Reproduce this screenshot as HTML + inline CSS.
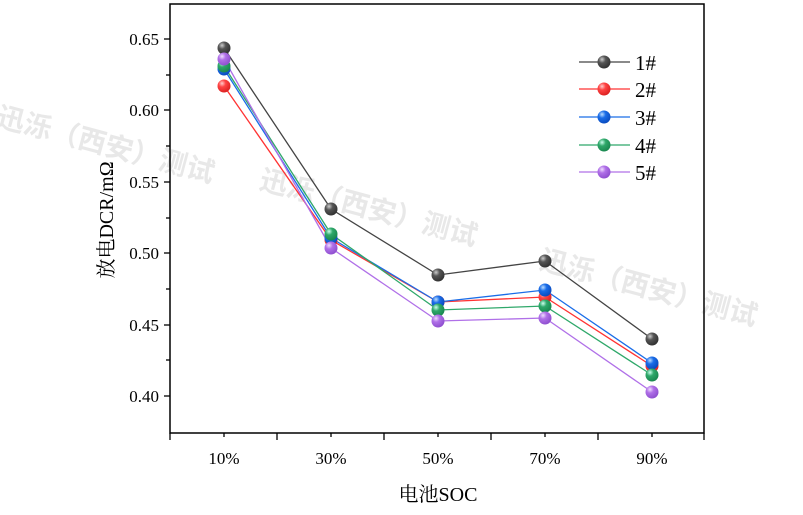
<!DOCTYPE html>
<html><head><meta charset="utf-8"><style>body{margin:0;background:#fff}svg{display:block}</style></head><body>
<svg width="803" height="515" xmlns="http://www.w3.org/2000/svg" font-family="'Liberation Serif', 'Noto Serif CJK SC', serif">
<defs>
<radialGradient id="g1" cx="0.35" cy="0.3" r="0.7"><stop offset="0" stop-color="#ccc"/><stop offset="0.4" stop-color="#555"/><stop offset="1" stop-color="#333"/></radialGradient>
<radialGradient id="g2" cx="0.35" cy="0.3" r="0.7"><stop offset="0" stop-color="#fcc"/><stop offset="0.4" stop-color="#f44"/><stop offset="1" stop-color="#d22"/></radialGradient>
<radialGradient id="g3" cx="0.35" cy="0.3" r="0.7"><stop offset="0" stop-color="#bdf"/><stop offset="0.4" stop-color="#1a6de8"/><stop offset="1" stop-color="#0a4cc0"/></radialGradient>
<radialGradient id="g4" cx="0.35" cy="0.3" r="0.7"><stop offset="0" stop-color="#cfe"/><stop offset="0.4" stop-color="#2fa86a"/><stop offset="1" stop-color="#1a8850"/></radialGradient>
<radialGradient id="g5" cx="0.35" cy="0.3" r="0.7"><stop offset="0" stop-color="#f0ddff"/><stop offset="0.4" stop-color="#b070e8"/><stop offset="1" stop-color="#9050d0"/></radialGradient>
</defs>
<g fill="#e8e8e8" font-family="'Liberation Sans', 'Noto Sans CJK SC', sans-serif" font-weight="bold" font-size="28">
<text x="-5" y="125" transform="rotate(15 -5 125)">迅泺（西安）测试</text>
<text x="258" y="188" transform="rotate(15 258 188)">迅泺（西安）测试</text>
<text x="538" y="268" transform="rotate(15 538 268)">迅泺（西安）测试</text>
</g>
<rect x="170" y="4" width="534" height="429" fill="none" stroke="#000" stroke-width="1.5"/>
<g stroke="#000" stroke-width="1.3">
<line x1="164" y1="39" x2="170" y2="39"/><line x1="164" y1="110" x2="170" y2="110"/><line x1="164" y1="182" x2="170" y2="182"/><line x1="164" y1="253" x2="170" y2="253"/><line x1="164" y1="325" x2="170" y2="325"/><line x1="164" y1="396" x2="170" y2="396"/>
<line x1="166" y1="75" x2="170" y2="75"/><line x1="166" y1="146" x2="170" y2="146"/><line x1="166" y1="218" x2="170" y2="218"/><line x1="166" y1="289" x2="170" y2="289"/><line x1="166" y1="360" x2="170" y2="360"/>
<line x1="170" y1="433" x2="170" y2="440"/><line x1="277" y1="433" x2="277" y2="440"/><line x1="384" y1="433" x2="384" y2="440"/><line x1="491" y1="433" x2="491" y2="440"/><line x1="598" y1="433" x2="598" y2="440"/><line x1="704" y1="433" x2="704" y2="440"/>
<line x1="224" y1="433" x2="224" y2="437"/><line x1="331" y1="433" x2="331" y2="437"/><line x1="438" y1="433" x2="438" y2="437"/><line x1="545" y1="433" x2="545" y2="437"/><line x1="652" y1="433" x2="652" y2="437"/>
</g>
<g font-size="17" text-anchor="end" fill="#000">
<text x="159" y="45">0.65</text><text x="159" y="116">0.60</text><text x="159" y="188">0.55</text><text x="159" y="259">0.50</text><text x="159" y="331">0.45</text><text x="159" y="402">0.40</text>
</g>
<g font-size="17" text-anchor="middle" fill="#000">
<text x="224" y="464">10%</text><text x="331" y="464">30%</text><text x="438" y="464">50%</text><text x="545" y="464">70%</text><text x="652" y="464">90%</text>
</g>
<text x="438" y="501" font-size="20" text-anchor="middle">电池SOC</text>
<text transform="translate(113 220) rotate(-90)" font-size="20" text-anchor="middle">放电DCR/mΩ</text>
<g fill="none" stroke-width="1.3">
<polyline stroke="#444" points="224,48 331,209 438,275 545,261 652,339"/>
<polyline stroke="#f33" points="224,86 331,240 438,302 545,297 652,366"/>
<polyline stroke="#1a6de8" points="224,69 331,238 438,302 545,290 652,363"/>
<polyline stroke="#2fa86a" points="224,66 331,234 438,310 545,306 652,375"/>
<polyline stroke="#b070e8" points="224,59 331,248 438,321 545,318 652,392"/>
</g>
<g>
<circle cx="224" cy="48" r="6.5" fill="url(#g1)"/><circle cx="331" cy="209" r="6.5" fill="url(#g1)"/><circle cx="438" cy="275" r="6.5" fill="url(#g1)"/><circle cx="545" cy="261" r="6.5" fill="url(#g1)"/><circle cx="652" cy="339" r="6.5" fill="url(#g1)"/>
<circle cx="224" cy="86" r="6.5" fill="url(#g2)"/><circle cx="331" cy="240" r="6.5" fill="url(#g2)"/><circle cx="438" cy="302" r="6.5" fill="url(#g2)"/><circle cx="545" cy="297" r="6.5" fill="url(#g2)"/><circle cx="652" cy="366" r="6.5" fill="url(#g2)"/>
<circle cx="224" cy="69" r="6.5" fill="url(#g3)"/><circle cx="331" cy="238" r="6.5" fill="url(#g3)"/><circle cx="438" cy="302" r="6.5" fill="url(#g3)"/><circle cx="545" cy="290" r="6.5" fill="url(#g3)"/><circle cx="652" cy="363" r="6.5" fill="url(#g3)"/>
<circle cx="224" cy="66" r="6.5" fill="url(#g4)"/><circle cx="331" cy="234" r="6.5" fill="url(#g4)"/><circle cx="438" cy="310" r="6.5" fill="url(#g4)"/><circle cx="545" cy="306" r="6.5" fill="url(#g4)"/><circle cx="652" cy="375" r="6.5" fill="url(#g4)"/>
<circle cx="224" cy="59" r="6.5" fill="url(#g5)"/><circle cx="331" cy="248" r="6.5" fill="url(#g5)"/><circle cx="438" cy="321" r="6.5" fill="url(#g5)"/><circle cx="545" cy="318" r="6.5" fill="url(#g5)"/><circle cx="652" cy="392" r="6.5" fill="url(#g5)"/>
</g>
<g stroke-width="1.3" font-size="21" fill="#000">
<line x1="579" y1="62" x2="630" y2="62" stroke="#444"/><circle cx="604" cy="62" r="6.5" fill="url(#g1)"/><text x="635" y="70">1#</text>
<line x1="579" y1="89" x2="630" y2="89" stroke="#f33"/><circle cx="604" cy="89" r="6.5" fill="url(#g2)"/><text x="635" y="97">2#</text>
<line x1="579" y1="117" x2="630" y2="117" stroke="#1a6de8"/><circle cx="604" cy="117" r="6.5" fill="url(#g3)"/><text x="635" y="125">3#</text>
<line x1="579" y1="145" x2="630" y2="145" stroke="#2fa86a"/><circle cx="604" cy="145" r="6.5" fill="url(#g4)"/><text x="635" y="153">4#</text>
<line x1="579" y1="172" x2="630" y2="172" stroke="#b070e8"/><circle cx="604" cy="172" r="6.5" fill="url(#g5)"/><text x="635" y="180">5#</text>
</g>
</svg>
</body></html>
